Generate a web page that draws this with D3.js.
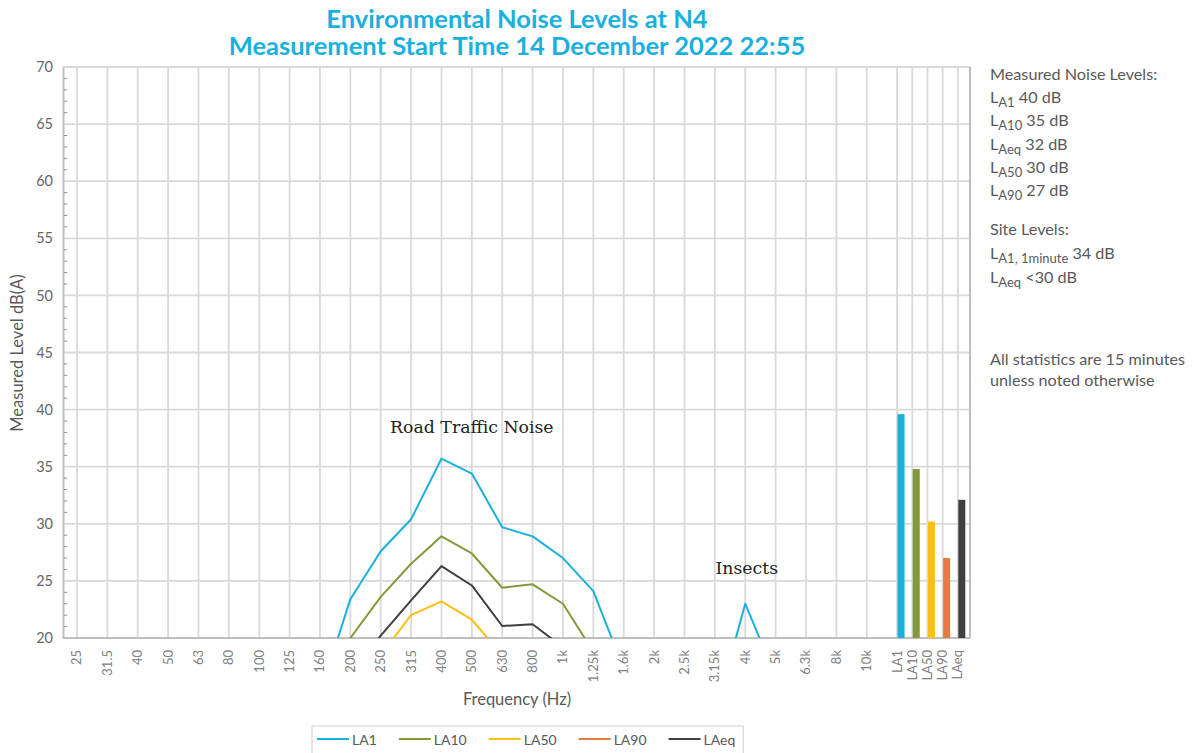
<!DOCTYPE html>
<html><head><meta charset="utf-8">
<script src="https://cdn.jsdelivr.net/npm/d3@7"></script>
<style>
body{margin:0;background:#fff;}
svg text{font-family:Lato,"Open Sans",sans-serif;}
</style></head>
<body><svg id="c" width="1194" height="753"></svg>
<script>
const freqLabels = ["25","31.5","40","50","63","80","100","125","160","200","250","315","400","500","630","800","1k","1.25k","1.6k","2k","2.5k","3.15k","4k","5k","6.3k","8k","10k"];
const statLabels = ["LA1","LA10","LA50","LA90","LAeq"];
const seriesNames = ["LA1","LA10","LA50","LA90","LAeq"];
const LA1  = [10.5,11.2,10.8,11.5,12.0,12.6,13.1,13.9,15.1,23.4,27.6,30.4,35.7,34.4,29.7,28.9,27.0,24.1,17.3,15.2,14.1,13.3,23.0,16.6,14.8,12.9,11.4];
const LA10 = [8.2,8.9,8.5,9.1,9.8,10.4,11.2,12.1,14.0,20.0,23.6,26.5,28.9,27.4,24.4,24.7,23.0,18.8,15.6,13.4,12.0,11.1,12.3,11.0,10.1,9.2,8.5];
const LA50 = [6.1,6.7,6.4,7.0,7.6,8.3,9.0,10.2,12.5,15.8,18.5,22.0,23.2,21.6,18.5,18.0,16.4,14.3,12.1,10.5,9.3,8.6,9.1,8.4,7.7,7.0,6.5];
const LA90 = [5.2,5.6,5.3,5.9,6.4,7.0,7.8,8.9,10.9,13.6,16.0,18.6,19.5,18.2,15.9,15.3,13.9,11.9,10.0,8.7,7.6,7.0,7.4,6.8,6.2,5.6,5.1];
const LAeq = [7.0,7.6,7.2,7.9,8.6,9.3,10.1,11.3,13.6,17.0,20.2,23.3,26.3,24.6,21.05,21.2,19.2,16.3,13.6,11.8,10.6,9.9,13.9,10.4,9.3,8.3,7.6];
const statValues = [39.6,34.8,30.2,27.0,32.1];
const yTicks = [20,25,30,35,40,45,50,55,60,65,70];
const colors = ["#1ab0de","#83993a","#fdbf12","#e27c45","#3f3f3f"];
const seriesValues = [LA1,LA10,LA50,LA90,LAeq];

const svg = d3.select("#c");
const L=63, R=970, T=67, B=638;

const freqPos = freqLabels.map((d,i)=>i);
const statPos = statLabels.map((d,j)=>freqLabels.length + 0.5*j);
const x = d3.scaleLinear().domain([-0.46, 29.4]).range([L,R]);
const y = d3.scaleLinear().domain([20,70]).range([B,T]);

const g = svg.append("g");
g.selectAll(".hg").data(yTicks).join("line")
  .attr("x1",L).attr("x2",R).attr("y1",d=>y(d)).attr("y2",d=>y(d))
  .attr("stroke","#d9d9d9").attr("stroke-width",1.8);
g.selectAll(".vg").data(freqPos.concat(statPos)).join("line")
  .attr("x1",d=>x(d)).attr("x2",d=>x(d)).attr("y1",T).attr("y2",B)
  .attr("stroke","#d9d9d9").attr("stroke-width",1.8);
g.append("line").attr("x1",R).attr("x2",R).attr("y1",T).attr("y2",B).attr("stroke","#bfbfbf").attr("stroke-width",2);

const yAxis = d3.axisLeft(y).tickValues(yTicks).tickSize(0).tickPadding(10);
const ya = svg.append("g").attr("transform",`translate(${L},0)`).call(yAxis);
ya.select(".domain").attr("stroke","#bfbfbf").attr("stroke-width",2);
ya.selectAll("text").attr("font-size",14.5).attr("fill","#666").style("font-family","Lato");
const minor = d3.range(21,70).filter(v=>v%5!==0);
svg.append("g").selectAll("line").data(minor).join("line")
  .attr("x1",L+1).attr("x2",L+4).attr("y1",d=>y(d)).attr("y2",d=>y(d))
  .attr("stroke","#8c8c8c").attr("stroke-width",1);

svg.append("line").attr("x1",L).attr("x2",R).attr("y1",B).attr("y2",B).attr("stroke","#bfbfbf").attr("stroke-width",2);
const xl = svg.append("g");
const allLabels = freqLabels.map((d,i)=>({t:d,p:freqPos[i]})).concat(statLabels.map((d,j)=>({t:d,p:statPos[j]})));
xl.selectAll("text").data(allLabels).join("text")
  .attr("transform",d=>`translate(${x(d.p)+4.5},${B+12}) rotate(-90)`)
  .attr("text-anchor","end").attr("font-size",13).attr("fill","#808080").text(d=>d.t);

svg.append("clipPath").attr("id","pc").append("rect").attr("x",L).attr("y",T).attr("width",R-L).attr("height",B-T);

const line = d3.line().x((d,i)=>x(freqPos[i])).y(d=>y(d));
const lg = svg.append("g").attr("clip-path","url(#pc)");
[4,3,2,1,0].forEach(k=>{
  lg.append("path").datum(seriesValues[k]).attr("d",line)
    .attr("fill","none").attr("stroke",colors[k]).attr("stroke-width",2).attr("stroke-linejoin","round");
});

const bw = 7;
svg.append("g").selectAll("rect").data(statValues).join("rect")
  .attr("x",(d,j)=>x(statPos[j]+0.13)-bw/2).attr("width",bw)
  .attr("y",d=>y(d)).attr("height",d=>y(20)-y(d))
  .attr("fill",(d,j)=>colors[j]);

const serif = "'DejaVu Serif',serif";
svg.append("text").attr("x",x(13.0)).attr("y",433).attr("text-anchor","middle")
  .attr("font-size",17.3).style("font-family",serif).attr("fill","#222").text("Road Traffic Noise");
svg.append("text").attr("x",x(22.05)).attr("y",574).attr("text-anchor","middle")
  .attr("font-size",17.3).style("font-family",serif).attr("fill","#222").text("Insects");

svg.append("text").attr("x",517).attr("y",28).attr("text-anchor","middle").attr("font-size",25.5).attr("font-weight","bold").attr("fill","#1ab0de").text("Environmental Noise Levels at N4");
svg.append("text").attr("x",517).attr("y",55).attr("text-anchor","middle").attr("font-size",25.5).attr("font-weight","bold").attr("fill","#1ab0de").text("Measurement Start Time 14 December 2022 22:55");

svg.append("text").attr("x",517).attr("y",705).attr("text-anchor","middle").attr("font-size",16.5).attr("fill","#595959").text("Frequency (Hz)");
svg.append("text").attr("transform","translate(23,353) rotate(-90)").attr("text-anchor","middle").attr("font-size",16.5).attr("fill","#595959").text("Measured Level dB(A)");

const panel = [
  {y:80, parts:[["Measured Noise Levels:",0]]},
  {y:103, parts:[["L",0],["A1",1],[" 40 dB",0]]},
  {y:126, parts:[["L",0],["A10",1],[" 35 dB",0]]},
  {y:150, parts:[["L",0],["Aeq",1],[" 32 dB",0]]},
  {y:173, parts:[["L",0],["A50",1],[" 30 dB",0]]},
  {y:196, parts:[["L",0],["A90",1],[" 27 dB",0]]},
  {y:235, parts:[["Site Levels:",0]]},
  {y:259, parts:[["L",0],["A1, 1minute",1],[" 34 dB",0]]},
  {y:283, parts:[["L",0],["Aeq",1],[" <30 dB",0]]},
  {y:365, parts:[["All statistics are 15 minutes",0]]},
  {y:386, parts:[["unless noted otherwise",0]]}
];
const pg = svg.append("g");
panel.forEach(row=>{
  const t = pg.append("text").attr("x",990).attr("y",row.y).attr("font-size",16.2).attr("fill","#595959");
  row.parts.forEach(p=>{
    const ts = t.append("tspan").text(p[0]);
    if(p[1]){ts.attr("font-size",13).attr("dy",4);}
    else if(p[0].startsWith(" ")){ts.attr("dy",-4);}
  });
});

const leg = svg.append("g");
const box = leg.append("rect").attr("x",312).attr("y",726).attr("height",40).attr("fill","#fff").attr("stroke","#d9d9d9").attr("stroke-width",1.2);
let cx = 317;
seriesNames.forEach((n,k)=>{
  leg.append("line").attr("x1",cx).attr("x2",cx+32).attr("y1",739).attr("y2",739).attr("stroke",colors[k]).attr("stroke-width",2);
  const tx = leg.append("text").attr("x",cx+35).attr("y",744.5).attr("font-size",14).attr("fill","#595959").text(n);
  cx = cx + 35 + tx.node().getComputedTextLength() + 22;
});
box.attr("width",cx-312-14);
</script></body></html>
